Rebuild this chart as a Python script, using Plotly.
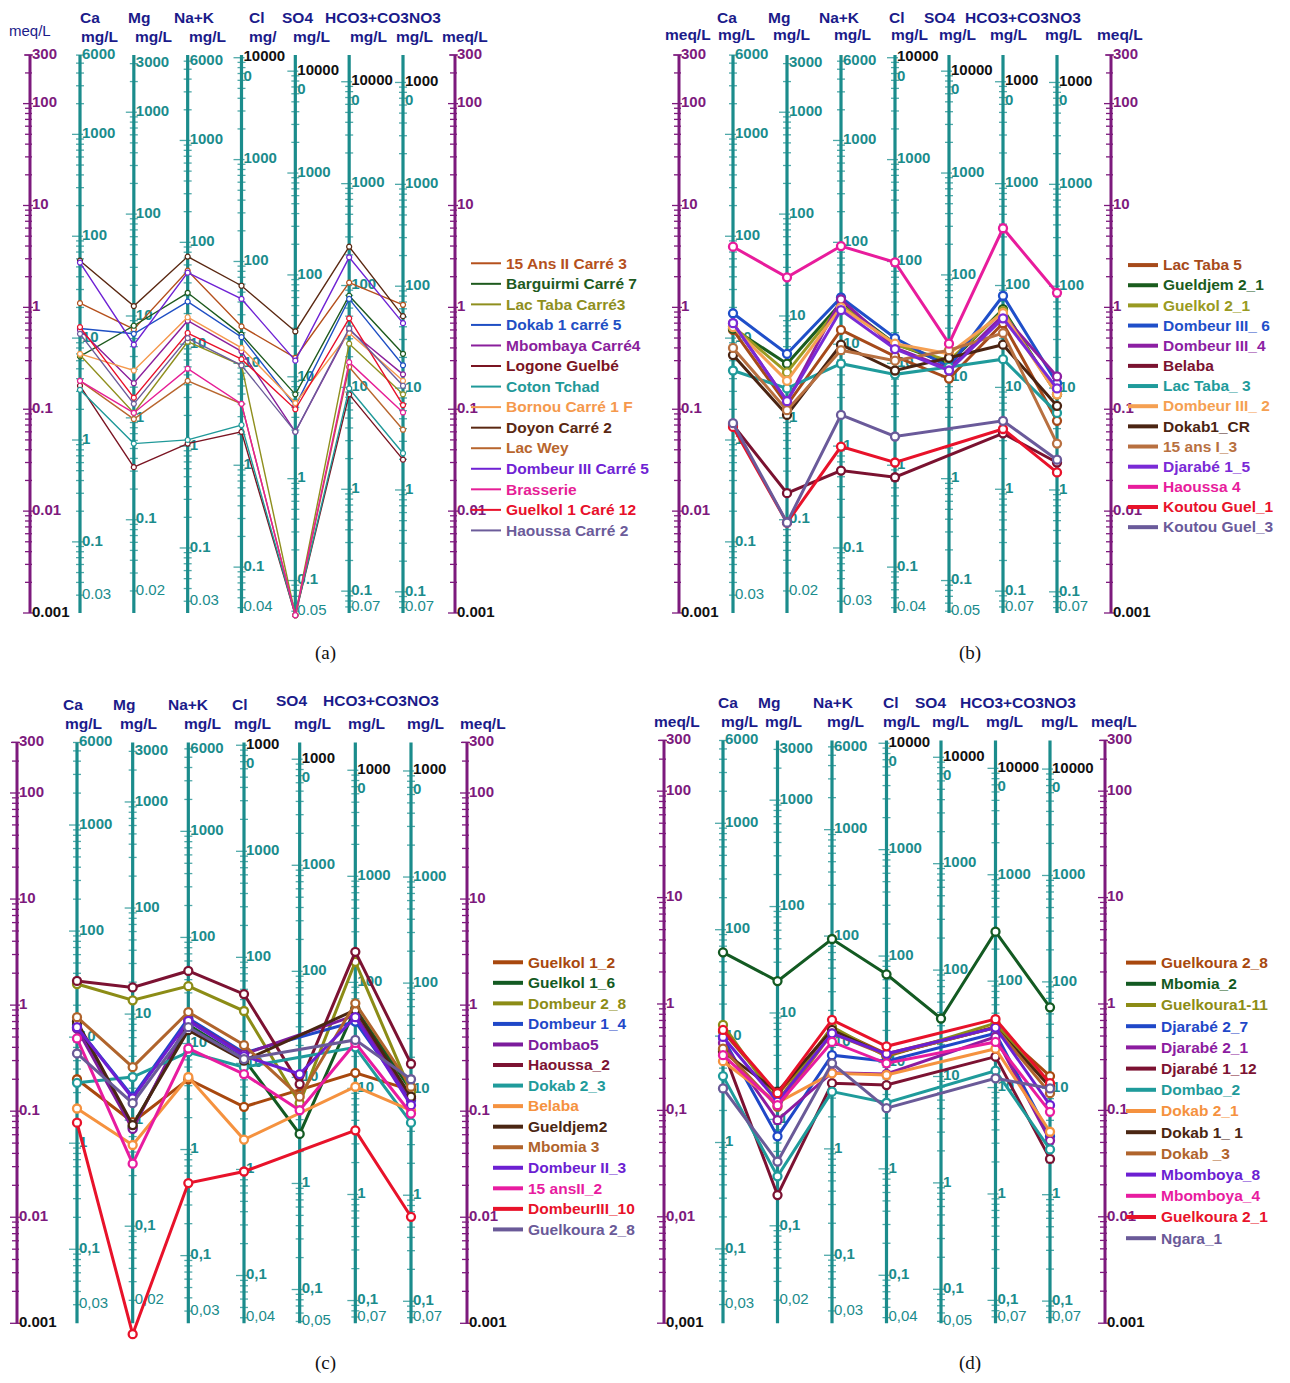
import math
import plotly.graph_objects as go

# ---------------- common scales ----------------
ION_NAMES = ["Ca", "Mg", "Na+K", "Cl", "SO4", "HCO3+CO3", "NO3"]
EQ_WEIGHT = [20.04, 12.15, 23.0, 35.45, 48.03, 61.02, 62.0]
MG_MID_TICKS = [1000, 100, 10, 1, 0.1]
MG_TOP = [6000, 3000, 6000, 10000, 10000, 10000, 10000]
MG_BOTTOM = [0.03, 0.02, 0.03, 0.04, 0.05, 0.07, 0.07]
MEQ_TICKS = [300, 100, 10, 1, 0.1, 0.01, 0.001]

# top labels of Cl, SO4, HCO3, NO3 axes as printed (wrapped) in each panel
A_TOPLAB = ["10000<br>0", "10000<br>0", "10000<br>0", "1000<br>0"]
B_TOPLAB = ["10000<br>0", "10000<br>0", "1000<br>0", "1000<br>0"]
C_TOPLAB = ["1000<br>0", "1000<br>0", "1000<br>0", "1000<br>0"]
D_TOPLAB = ["10000<br>0", "10000<br>0", "10000<br>0", "10000<br>0"]

# ---------------- panel (a) ----------------
A_NAMES = ["15 Ans II Carré 3", "Barguirmi Carré 7", "Lac Taba Carré3", "Dokab 1 carré 5",
           "Mbombaya Carré4", "Logone Guelbé", "Coton Tchad", "Bornou Carré 1 F",
           "Doyon Carré 2", "Lac Wey", "Dombeur III Carré 5", "Brasserie",
           "Guelkol 1 Caré 12", "Haoussa Carré 2"]
A_COLORS = ["#b5501c", "#1e5a1e", "#8f8f1e", "#1f4fc4", "#8a1f9c", "#7a1422", "#1f9999",
            "#f5994d", "#5a2812", "#b8662e", "#6f22d4", "#e61e96", "#e8102a", "#6c5c9a"]
A_CA = [1.10, 0.33, 0.34, 0.62, 0.60, 0.17, 0.155, 0.35, 2.87, 0.19, 2.75, 0.19, 0.64, 0.55]
A_MG = [0.61, 0.66, 0.092, 0.55, 0.18, 0.027, 0.046, 0.24, 1.03, 0.080, 0.43, 0.092, 0.13, 0.113]
A_NAK = [2.29, 1.39, 0.46, 1.14, 0.74, 0.046, 0.050, 0.80, 3.15, 0.19, 2.19, 0.25, 0.56, 0.50]
A_CL = [0.65, 0.54, 0.27, 0.51, 0.37, 0.060, 0.070, 0.40, 1.63, 0.113, 1.21, 0.113, 0.31, 0.27]
A_SO4 = [0.32, 0.14, 0.00095, 0.108, 0.060, 0.00095, 0.00095, 0.115, 0.58, 0.00095, 0.30, 0.00095, 0.10, 0.060]
A_HCO3 = [1.75, 1.30, 0.44, 1.21, 0.60, 0.14, 0.16, 0.56, 3.94, 0.26, 3.10, 0.29, 0.78, 0.62]
A_NO3 = [1.06, 0.35, 0.14, 0.27, 0.22, 0.032, 0.037, 0.19, 0.82, 0.063, 0.70, 0.093, 0.11, 0.17]

# ---------------- panel (b) ----------------
B_NAMES = ["Lac Taba 5", "Gueldjem 2_1", "Guelkol 2_1", "Dombeur III_ 6", "Dombeur III_4",
           "Belaba", "Lac Taba_ 3", "Dombeur III_ 2", "Dokab1_CR", "15 ans I_3",
           "Djarabé 1_5", "Haoussa 4", "Koutou Guel_1", "Koutou Guel_3"]
B_COLORS = ["#a64a1a", "#1a5c1e", "#999a22", "#1f4fc9", "#8c1fa3", "#7a1230", "#1f9b9b",
            "#f5a052", "#4a2412", "#b87040", "#7a2ad6", "#e81c9c", "#e8122a", "#6a5a9a"]
B_CA = [0.60, 0.62, 0.65, 0.875, 0.70, 0.070, 0.24, 0.64, 0.34, 0.40, 0.70, 3.94, 0.067, 0.073]
B_MG = [0.11, 0.28, 0.23, 0.35, 0.12, 0.015, 0.16, 0.19, 0.088, 0.098, 0.12, 1.97, 0.0077, 0.0077]
B_NAK = [0.60, 1.10, 1.06, 1.25, 1.20, 0.025, 0.28, 1.0, 0.43, 0.38, 0.94, 4.0, 0.043, 0.088]
B_CL = [0.33, 0.44, 0.43, 0.50, 0.40, 0.0215, 0.22, 0.44, 0.24, 0.30, 0.39, 2.77, 0.030, 0.054]
B_SO4 = [0.20, 0.28, 0.30, 0.26, 0.25, None, 0.26, 0.35, 0.32, 0.38, 0.24, 0.44, None, None]
B_HCO3 = [0.70, 0.96, 0.92, 1.30, 0.84, 0.058, 0.31, 0.88, 0.43, 0.56, 0.78, 5.98, 0.064, 0.077]
B_NO3 = [0.077, 0.14, 0.14, 0.18, 0.21, 0.030, 0.092, 0.14, 0.108, 0.046, 0.16, 1.39, 0.024, 0.032]

# ---------------- panel (c) ----------------
C_NAMES = ["Guelkol 1_2", "Guelkol 1_6", "Dombeur 2_8", "Dombeur 1_4", "Dombao5", "Haoussa_2",
           "Dokab 2_3", "Belaba", "Gueldjem2", "Mbomia 3", "Dombeur II_3", "15 ansII_2",
           "DombeurIII_10", "Guelkoura 2_8"]
C_COLORS = ["#a8480e", "#135a22", "#8c8c16", "#1f48c8", "#7c1c9c", "#7c1232", "#1f9b9b",
            "#f5923f", "#4a2612", "#b0642c", "#6c1fd2", "#e81ca0", "#e8122a", "#6a5a98"]
C_CA = [0.20, 0.65, 1.58, 0.62, 0.60, 1.69, 0.185, 0.106, 0.70, 0.77, 0.62, 0.485, 0.078, 0.35]
C_MG = [0.079, 0.071, 1.11, 0.137, 0.068, 1.47, 0.21, 0.048, 0.074, 0.26, 0.132, 0.032, 0.00079, 0.119]
C_NAK = [0.20, 0.65, 1.51, 0.75, 0.72, 2.10, 0.36, 0.21, 0.58, 0.86, 0.71, 0.39, 0.021, 0.62]
C_CL = [0.110, 0.31, 0.88, 0.355, 0.345, 1.27, 0.26, 0.054, 0.30, 0.42, 0.33, 0.224, 0.027, 0.31]
C_SO4 = [None, 0.061, 0.119, None, None, 0.18, None, None, None, 0.137, 0.224, 0.102, None, None]
C_HCO3 = [0.23, 0.93, 2.56, 0.70, 0.80, 3.18, 0.40, 0.17, 0.90, 1.04, 0.77, 0.44, 0.066, 0.47]
C_NO3 = [0.158, 0.158, 0.152, 0.127, 0.132, 0.28, 0.078, 0.102, 0.137, 0.17, 0.114, 0.095, 0.0101, 0.20]

# ---------------- panel (d) ----------------
D_NAMES = ["Guelkoura 2_8", "Mbomia_2", "Guelkoura1-11", "Djarabé 2_7", "Djarabé 2_1",
           "Djarabé 1_12", "Dombao_2", "Dokab 2_1", "Dokab 1_ 1", "Dokab _3", "Mbomboya_8",
           "Mbomboya_4", "Guelkoura 2_1", "Ngara_1"]
D_COLORS = ["#a8480e", "#135a22", "#8c8c16", "#1f48c8", "#8c1ca0", "#7c1232", "#1f9b9b",
            "#f5923f", "#4a2612", "#b0642c", "#6c1fd2", "#e81ca0", "#e8122a", "#6a5a98"]
D_CA = [0.55, 3.06, 0.635, 0.48, 0.43, 0.37, 0.21, 0.29, 0.356, 0.38, 0.49, 0.33, 0.57, 0.161]
D_MG = [0.14, 1.64, 0.121, 0.057, 0.081, 0.016, 0.024, 0.118, 0.15, 0.108, 0.121, 0.112, 0.145, 0.033]
D_NAK = [0.59, 4.08, 0.61, 0.33, 0.226, 0.18, 0.15, 0.223, 0.57, 0.53, 0.53, 0.44, 0.71, 0.277]
D_CL = [0.34, 1.90, 0.32, 0.29, 0.22, 0.173, 0.118, 0.215, 0.33, 0.33, 0.34, 0.277, 0.40, 0.105]
D_SO4 = [None, 0.73, None, None, None, None, None, None, None, None, None, None, None, None]
D_HCO3 = [0.61, 4.78, 0.66, 0.53, 0.49, 0.32, 0.236, 0.38, 0.60, 0.60, 0.60, 0.44, 0.72, 0.20]
D_NO3 = [0.21, 0.93, 0.167, 0.057, 0.052, 0.035, 0.043, 0.063, 0.167, 0.145, 0.112, 0.097, 0.18, 0.161]

# ---------------- layout geometry (pixels of the 1290x1383 page) ----------------
PAGE_W, PAGE_H = 1290, 1383
OFF = 8                       # default body margin of the html page
W, H = PAGE_W - 2 * OFF, PAGE_H - 2 * OFF
TEAL = "#1b8c8c"
TEAL_TICK = "#4fa9a9"
PURPLE = "#7d1a7d"
NAVY = "#1b1b8a"
FONT = "Liberation Sans, Arial, sans-serif"


def fx(px):
    return (px - OFF) / W


def fy(py):
    return 1 - (py - OFF) / H


PANELS = [
    dict(x0=8, x1=645, top=8, bot=640, ca=80, no3=403, left=30, right=455, y300=55, y001=613,
         toplab=A_TOPLAB, dec=".", ldec=".", thin=True,
         legend=(466, 248), lfont=13.5, lsize=15.5, caption=("(a)", 325, 653),
         row1=[("Ca", 90, 17), ("Mg", 139, 17), ("Na+K", 194, 17), ("Cl", 257, 17), ("SO4", 297, 17),
               ("HCO3+CO3NO3", 383, 17)],
         row2=[("mg/L", 99, 37), ("mg/L", 153, 37), ("mg/L", 207, 37), ("mg/", 263, 37), ("mg/L", 311, 37),
               ("mg/L", 368, 37), ("mg/L", 414, 37), ("meq/L", 465, 37)],
         plain=[("meq/L", 30, 30)],
         names=A_NAMES, colors=A_COLORS, cols=[A_CA, A_MG, A_NAK, A_CL, A_SO4, A_HCO3, A_NO3]),
    dict(x0=645, x1=1282, top=8, bot=640, ca=733, no3=1057, left=679, right=1111, y300=55, y001=613,
         toplab=B_TOPLAB, dec=".", ldec=".", thin=False,
         legend=(1123, 250), lfont=13.2, lsize=15.5, caption=("(b)", 970, 653),
         row1=[("Ca", 727, 17), ("Mg", 779, 17), ("Na+K", 840, 17), ("Cl", 897, 17), ("SO4", 939, 17),
               ("HCO3+CO3NO3", 1023, 17)],
         row2=[("meq/L", 688, 35), ("mg/L", 736, 35), ("mg/L", 791, 35), ("mg/L", 852, 35), ("mg/L", 909, 35),
               ("mg/L", 957, 35), ("mg/L", 1008, 35), ("mg/L", 1063, 35), ("meq/L", 1120, 35)],
         plain=[],
         names=B_NAMES, colors=B_COLORS, cols=[B_CA, B_MG, B_NAK, B_CL, B_SO4, B_HCO3, B_NO3]),
    dict(x0=8, x1=645, top=680, bot=1350, ca=77, no3=411, left=17, right=467, y300=742.4, y001=1323.3,
         toplab=C_TOPLAB, dec=",", ldec=".", thin=False,
         legend=(488, 947), lfont=13.5, lsize=15.5, caption=("(c)", 325, 1363),
         row1=[("Ca", 73, 704), ("Mg", 124, 704), ("Na+K", 189, 704), ("Cl", 240, 704), ("SO4", 291, 700),
               ("HCO3+CO3NO3", 381, 700)],
         row2=[("mg/L", 83, 724), ("mg/L", 138, 724), ("mg/L", 202, 724), ("mg/L", 252, 724), ("mg/L", 312, 724),
               ("mg/L", 366, 724), ("mg/L", 425, 724), ("meq/L", 483, 723)],
         plain=[],
         names=C_NAMES, colors=C_COLORS, cols=[C_CA, C_MG, C_NAK, C_CL, C_SO4, C_HCO3, C_NO3]),
    dict(x0=645, x1=1282, top=680, bot=1350, ca=723, no3=1050, left=664, right=1105, y300=740.4, y001=1323.2,
         toplab=D_TOPLAB, dec=",", ldec=",", thin=False,
         legend=(1121, 947), lfont=14, lsize=15.5, caption=("(d)", 970, 1363),
         row1=[("Ca", 728, 702), ("Mg", 769, 702), ("Na+K", 833, 702), ("Cl", 891, 702), ("SO4", 930, 702),
               ("HCO3+CO3NO3", 1018, 702)],
         row2=[("meq/L", 677, 721), ("mg/L", 739, 721), ("mg/L", 783, 721), ("mg/L", 845, 721), ("mg/L", 901, 721),
               ("mg/L", 950, 721), ("mg/L", 1004, 721), ("mg/L", 1059, 721), ("meq/L", 1114, 721)],
         plain=[],
         names=D_NAMES, colors=D_COLORS, cols=[D_CA, D_MG, D_NAK, D_CL, D_SO4, D_HCO3, D_NO3]),
]


def fmt(v, sep):
    s = ("%g" % v)
    return s.replace(".", sep)


fig = go.Figure()
layout = dict(width=W, height=H, margin=dict(l=0, r=0, t=0, b=0),
              paper_bgcolor="white", plot_bgcolor="white", showlegend=True)
annotations = []


def draw_panel(pi, P):
    sfx = "" if pi == 0 else str(pi + 1)
    xa, ya = "x" + sfx, "y" + sfx
    unit = (P["no3"] - P["ca"]) / 6.0

    def px2x(px):
        return 1 + (px - P["ca"]) / unit

    def dx(px):
        return px / unit

    lg300 = math.log10(300)
    dec_px = (P["y001"] - P["y300"]) / (lg300 + 3)
    r_top = lg300 + (P["y300"] - P["top"]) / dec_px
    r_bot = -3 - (P["bot"] - P["y001"]) / dec_px
    layout["xaxis" + sfx] = dict(domain=[fx(P["x0"]), fx(P["x1"])], range=[px2x(P["x0"]), px2x(P["x1"])],
                                 visible=False, fixedrange=True, anchor=ya)
    layout["yaxis" + sfx] = dict(domain=[fy(P["bot"]), fy(P["top"])], type="log",
                                 range=[r_bot, r_top], visible=False, fixedrange=True, anchor=xa)

    def down(v, px):
        # a value lying px pixels below v on this log scale
        return v / (10 ** (px / dec_px))

    xl, xr = px2x(P["left"]), px2x(P["right"])
    ion_x = list(range(1, 8))

    # ---- minor/major ticks on ion axes
    tx, ty = [], []
    for i, ew in enumerate(EQ_WEIGHT):
        for k in range(-3, 6):
            for m in range(1, 10):
                mg = m * 10 ** k
                meq = mg / ew
                if 0.001 <= meq <= 300:
                    a = dx(8 if m == 1 else 4)
                    b = dx(3 if m == 1 else 4)
                    tx += [ion_x[i] - a, ion_x[i] + b, None]
                    ty += [meq, meq, None]
    fig.add_trace(go.Scatter(x=tx, y=ty, mode="lines", line=dict(color=TEAL_TICK, width=1.3),
                             hoverinfo="skip", showlegend=False, xaxis=xa, yaxis=ya))
    # ---- ticks on meq axes
    mx, my = [], []
    for xa_ in (xl, xr):
        for k in range(-3, 3):
            for m in range(1, 10):
                v = m * 10 ** k
                if 0.001 <= v <= 300:
                    a = dx(7 if m == 1 else 5)
                    b = dx(3 if m == 1 else 2)
                    mx += [xa_ - a, xa_ + b, None]
                    my += [v, v, None]
        mx += [xa_ - dx(6), xa_ + dx(3), None]
        my += [300, 300, None]
    fig.add_trace(go.Scatter(x=mx, y=my, mode="lines", line=dict(color=PURPLE, width=1.3),
                             hoverinfo="skip", showlegend=False, xaxis=xa, yaxis=ya))
    # ---- axis lines
    lx, ly = [], []
    for x in ion_x:
        lx += [x, x, None]
        ly += [0.001, 300, None]
    fig.add_trace(go.Scatter(x=lx, y=ly, mode="lines", line=dict(color=TEAL, width=3.2),
                             hoverinfo="skip", showlegend=False, xaxis=xa, yaxis=ya))
    fig.add_trace(go.Scatter(x=[xl, xl, None, xr, xr], y=[0.001, 300, None, 0.001, 300], mode="lines",
                             line=dict(color=PURPLE, width=3), hoverinfo="skip", showlegend=False,
                             xaxis=xa, yaxis=ya))

    # ---- ion axis labels (mg/L)
    for i, ew in enumerate(EQ_WEIGHT):
        vals = [MG_TOP[i]] + MG_MID_TICKS + [MG_BOTTOM[i]]
        texts, ys = [], []
        for j, v in enumerate(vals):
            if j == 0 and i >= 3:
                first, rest = P["toplab"][i - 3].split("<br>")
                texts.append("<b><span style='color:#111111'>%s</span><br>%s</b>" % (first, rest))
                ys.append(down(v / ew, 9.5))      # first line sits on the tick
            elif j == len(vals) - 1:
                texts.append(fmt(v, P["dec"]))
                ys.append(v / ew)
            else:
                texts.append("<b>%s</b>" % fmt(v, P["dec"]))
                ys.append(v / ew)
        fig.add_trace(go.Scatter(x=[ion_x[i] + dx(2)] * len(vals), y=ys, mode="text",
                                 text=texts, textposition="middle right",
                                 textfont=dict(family=FONT, size=15, color=TEAL),
                                 hoverinfo="skip", showlegend=False, xaxis=xa, yaxis=ya))
    # ---- meq labels
    for xa_, sep in ((xl, P["ldec"]), (xr, ".")):
        texts = []
        for v in MEQ_TICKS:
            s = fmt(v, sep)
            if v == 0.001:
                texts.append("<b><span style='color:#111111'>%s</span></b>" % s)
            else:
                texts.append("<b>%s</b>" % s)
        fig.add_trace(go.Scatter(x=[xa_ + dx(2)] * len(MEQ_TICKS), y=MEQ_TICKS, mode="text", text=texts,
                                 textposition="middle right",
                                 textfont=dict(family=FONT, size=15, color=PURPLE),
                                 hoverinfo="skip", showlegend=False, xaxis=xa, yaxis=ya))

    # ---- data series
    lw = 1.4 if P["thin"] else 3.0
    ms = 5 if P["thin"] else 8
    mlw = 1.2 if P["thin"] else 2.3
    leg = "legend" + sfx
    for s, (name, col) in enumerate(zip(P["names"], P["colors"])):
        ys = [c[s] for c in P["cols"]]
        fig.add_trace(go.Scatter(x=ion_x, y=ys, mode="lines+markers", connectgaps=True,
                                 line=dict(color=col, width=lw),
                                 marker=dict(symbol="circle", size=ms, color="white",
                                             line=dict(color=col, width=mlw)),
                                 name=name, legendgroup=leg + name, showlegend=False,
                                 xaxis=xa, yaxis=ya))
        fig.add_trace(go.Scatter(x=[None], y=[None], mode="lines",
                                 line=dict(color=col, width=2 if P["thin"] else 4),
                                 name="<b><span style='color:%s;font-size:%spx'>%s</span></b>"
                                      % (col, P["lsize"], name),
                                 legendgroup=leg + name, legend=leg, xaxis=xa, yaxis=ya))
    lx_, ly_ = P["legend"]
    layout[leg] = dict(x=fx(lx_), y=fy(ly_), xanchor="left", yanchor="top",
                       bgcolor="rgba(0,0,0,0)", borderwidth=0, itemwidth=30, tracegroupgap=0,
                       font=dict(family=FONT, size=P["lfont"], color="#333"))

    # ---- headers and caption
    for (t, px, py) in P["row1"] + P["row2"]:
        annotations.append(dict(text="<b>%s</b>" % t, x=fx(px), y=fy(py), xref="paper", yref="paper",
                                xanchor="center", yanchor="middle", showarrow=False,
                                font=dict(family=FONT, size=15.5, color=NAVY)))
    for (t, px, py) in P["plain"]:
        annotations.append(dict(text=t, x=fx(px), y=fy(py), xref="paper", yref="paper",
                                xanchor="center", yanchor="middle", showarrow=False,
                                font=dict(family=FONT, size=15, color=NAVY)))
    ct, cx, cy = P["caption"]
    annotations.append(dict(text=ct, x=fx(cx), y=fy(cy), xref="paper", yref="paper",
                            xanchor="center", yanchor="middle", showarrow=False,
                            font=dict(family="Liberation Serif, DejaVu Serif, serif", size=19, color="#111")))


for pi, P in enumerate(PANELS):
    draw_panel(pi, P)

layout["annotations"] = annotations
fig.update_layout(**layout)
fig.write_html("out.html")
